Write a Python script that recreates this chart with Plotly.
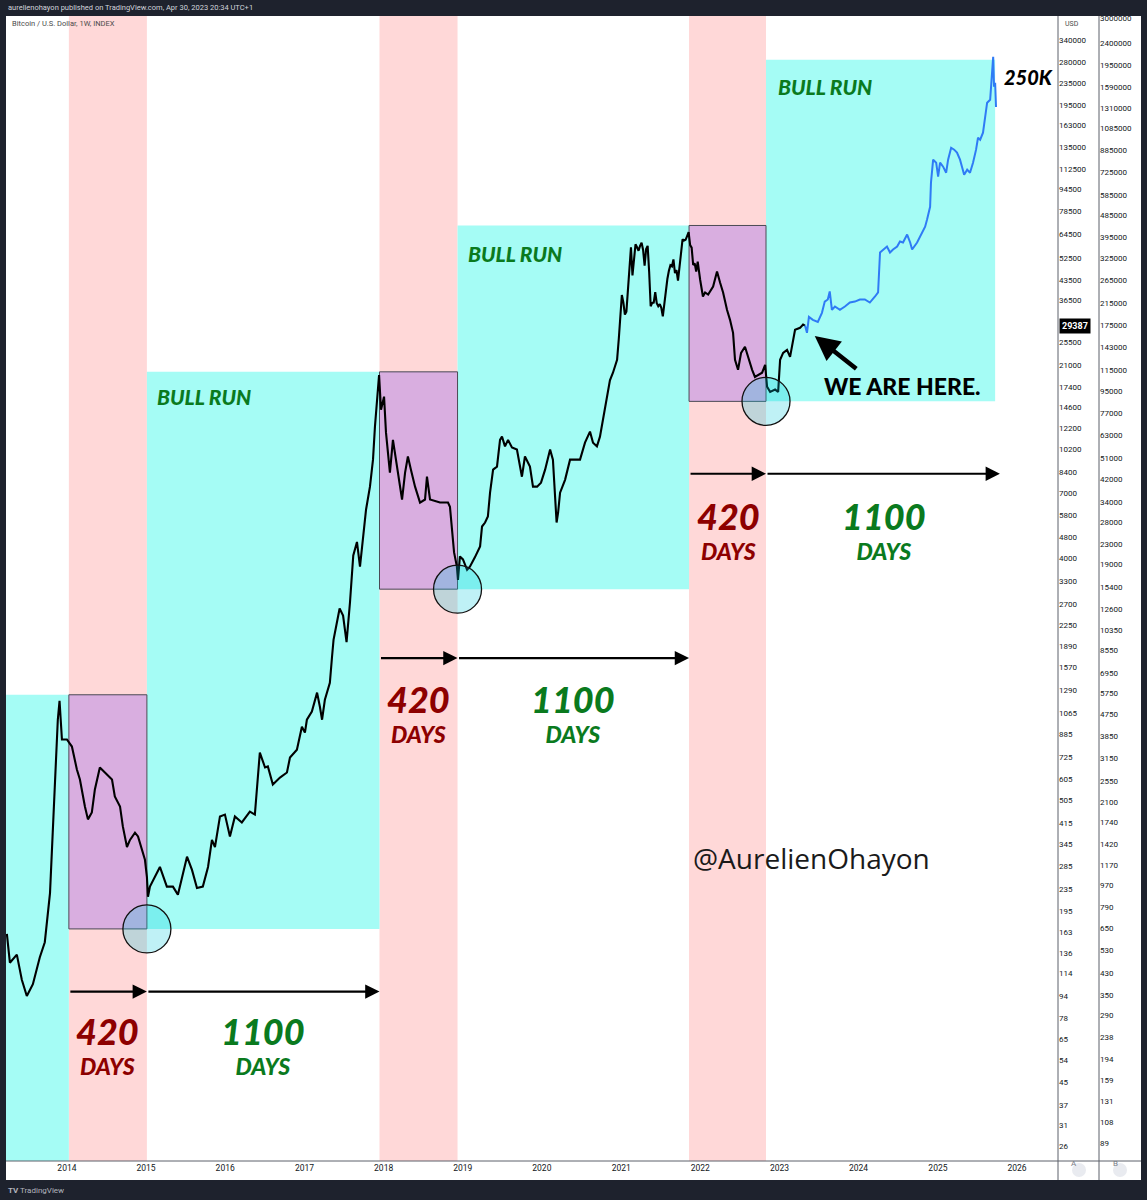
import numpy as np
import plotly.graph_objects as go

# ---------------- data ----------------
hist_dates = [
    "2013-03-30", "2013-04-13", "2013-05-15", "2013-06-07", "2013-06-30", "2013-07-28", "2013-08-29",
    "2013-09-21", "2013-10-15", "2013-10-28", "2013-11-07", "2013-11-20", "2013-11-28", "2013-12-09",
    "2014-01-01", "2014-01-24", "2014-02-16", "2014-03-02", "2014-03-25", "2014-04-08", "2014-04-26",
    "2014-05-10", "2014-06-02", "2014-07-05", "2014-07-28", "2014-08-10", "2014-09-03", "2014-09-16",
    "2014-10-05", "2014-10-19", "2014-11-11", "2014-11-25", "2014-12-13", "2014-12-27", "2015-01-05",
    "2015-01-10", "2015-01-19", "2015-03-06", "2015-04-07", "2015-05-05", "2015-05-28", "2015-07-09",
    "2015-08-01", "2015-08-24", "2015-09-20", "2015-10-14", "2015-11-01", "2015-11-15", "2015-12-08",
    "2015-12-31", "2016-01-23", "2016-02-15", "2016-03-18", "2016-04-24", "2016-05-17", "2016-05-27",
    "2016-06-09", "2016-07-03", "2016-07-16", "2016-08-08", "2016-09-10", "2016-10-12", "2016-10-26",
    "2016-11-27", "2016-12-20", "2017-01-03", "2017-01-12", "2017-02-04", "2017-02-28", "2017-03-13",
    "2017-03-23", "2017-04-05", "2017-04-28", "2017-05-08", "2017-05-15", "2017-06-12", "2017-06-28",
    "2017-07-14", "2017-07-30", "2017-08-14", "2017-08-31", "2017-09-14", "2017-09-28", "2017-10-12",
    "2017-10-30", "2017-11-13", "2017-11-22", "2017-12-01", "2017-12-11", "2017-12-20", "2018-01-03",
    "2018-01-12", "2018-01-30", "2018-02-13", "2018-02-22", "2018-03-08", "2018-03-27", "2018-04-10",
    "2018-04-23", "2018-05-07", "2018-05-26", "2018-06-18", "2018-07-11", "2018-07-20", "2018-08-03",
    "2018-09-18", "2018-10-25", "2018-11-03", "2018-11-12", "2018-11-22", "2018-12-05", "2018-12-10",
    "2018-12-19", "2019-01-02", "2019-01-21", "2019-02-03", "2019-02-26", "2019-03-22", "2019-03-31",
    "2019-04-14", "2019-04-27", "2019-05-07", "2019-05-21", "2019-06-08", "2019-06-22", "2019-07-01",
    "2019-07-15", "2019-07-29", "2019-08-16", "2019-09-08", "2019-10-01", "2019-10-15", "2019-11-07",
    "2019-11-21", "2019-12-10", "2019-12-28", "2020-01-16", "2020-02-08", "2020-02-21", "2020-03-09",
    "2020-03-16", "2020-03-25", "2020-04-17", "2020-05-10", "2020-06-02", "2020-06-25", "2020-07-18",
    "2020-08-10", "2020-08-24", "2020-09-11", "2020-09-25", "2020-10-09", "2020-10-23", "2020-11-10",
    "2020-11-24", "2020-12-13", "2020-12-21", "2020-12-28", "2021-01-04", "2021-01-11", "2021-01-18",
    "2021-01-25", "2021-02-01", "2021-02-08", "2021-02-15", "2021-02-22", "2021-03-01", "2021-03-08",
    "2021-03-15", "2021-03-22", "2021-03-29", "2021-04-05", "2021-04-12", "2021-04-19", "2021-04-26",
    "2021-05-03", "2021-05-10", "2021-05-17", "2021-05-24", "2021-05-31", "2021-06-07", "2021-06-14",
    "2021-06-21", "2021-06-28", "2021-07-05", "2021-07-12", "2021-07-19", "2021-07-26", "2021-08-02",
    "2021-08-09", "2021-08-16", "2021-08-23", "2021-08-30", "2021-09-06", "2021-09-13", "2021-09-20",
    "2021-09-27", "2021-10-04", "2021-10-11", "2021-10-18", "2021-10-25", "2021-11-01", "2021-11-08",
    "2021-11-15", "2021-11-22", "2021-11-29", "2021-12-06", "2021-12-13", "2021-12-20", "2021-12-31",
    "2022-01-13", "2022-01-23", "2022-02-06", "2022-03-01", "2022-03-19", "2022-04-02", "2022-04-16",
    "2022-05-04", "2022-05-18", "2022-06-01", "2022-06-10", "2022-06-24", "2022-07-08", "2022-07-26",
    "2022-08-09", "2022-08-28", "2022-09-10", "2022-09-24", "2022-10-13", "2022-10-27", "2022-11-05",
    "2022-11-19", "2022-12-12", "2022-12-26", "2023-01-04", "2023-01-18", "2023-02-05", "2023-02-19",
    "2023-02-28", "2023-03-14", "2023-04-06", "2023-04-20", "2023-04-29",
]
hist_close = [
    160, 125, 134, 108, 94, 104, 131,
    149, 227, 392, 537, 1003, 1180, 847,
    847, 797, 655, 601, 477, 427, 453,
    552, 666, 627, 601, 520, 477, 402,
    337, 358, 381, 369, 329, 302, 261,
    220, 240, 284, 240, 240, 224, 310,
    277, 237, 240, 284, 358, 337, 438,
    445, 369, 438, 416, 456, 445, 552,
    757, 666, 672, 576, 611, 638, 725,
    776, 945, 898, 1003, 1075, 1265, 1121,
    1003, 1190, 1377, 1720, 1989, 2600, 2450,
    1950, 2750, 4100, 4600, 3723, 4702, 6076,
    7392, 9316, 12356, 15569, 19244, 14280, 15983,
    11740, 8337, 11036, 9897, 8337, 6620, 8337,
    9568, 8551, 7392, 6450, 6620, 8048, 6620,
    6450, 6450, 6222, 5253, 4206, 3723, 3325,
    4066, 3961, 3624, 3723, 4032, 4427, 5253,
    5433, 5729, 7021, 8551, 8775, 11036, 11346,
    10435, 11036, 10346, 10152, 8048, 9568, 8775,
    7392, 7392, 7647, 8551, 10152, 9316, 5433,
    5923, 7021, 7837, 9316, 9316, 9316, 10775,
    11846, 10775, 10435, 11346, 13114, 15569, 18384,
    19621, 21910, 26300, 33000, 38200, 35800, 32300,
    33100, 38900, 48600, 57500, 45200, 51200, 59000,
    57500, 55800, 58200, 59800, 56200, 49100, 56600,
    58200, 46400, 34700, 35700, 35800, 39100, 35600,
    34700, 35300, 34200, 31800, 35400, 39900, 43800,
    47000, 49300, 48800, 51800, 46100, 47300, 43200,
    48200, 55000, 61500, 60900, 61300, 63300, 65500,
    58600, 57300, 49400, 50100, 46700, 50800, 43620,
    37710, 39030, 38350, 41070, 46720, 42500, 39030,
    33630, 30870, 27610, 21910, 20120, 23270, 24500,
    22480, 20120, 18920, 19240, 19621, 20980, 17400,
    16650, 16980, 16650, 21910, 23270, 23870, 22480,
    24500, 28340, 28820, 29650, 29387,
]

proj_dates = [
    "2023-04-29", "2023-05-08", "2023-05-17", "2023-06-04", "2023-06-27", "2023-07-16", "2023-07-29",
    "2023-08-12", "2023-08-21", "2023-08-31", "2023-09-14", "2023-10-07", "2023-10-30", "2023-11-22",
    "2023-12-15", "2024-01-07", "2024-01-30", "2024-02-22", "2024-03-17", "2024-03-31", "2024-04-09",
    "2024-04-23", "2024-05-11", "2024-05-25", "2024-06-08", "2024-06-27", "2024-07-10", "2024-07-24",
    "2024-08-12", "2024-08-26", "2024-09-04", "2024-09-27", "2024-10-20", "2024-11-03", "2024-11-12",
    "2024-11-26", "2024-11-30", "2024-12-10", "2024-12-24", "2025-01-02", "2025-01-11", "2025-01-25",
    "2025-02-08", "2025-02-17", "2025-03-03", "2025-03-17", "2025-03-30", "2025-04-13", "2025-04-22",
    "2025-05-02", "2025-05-16", "2025-05-29", "2025-06-12", "2025-06-26", "2025-07-05", "2025-07-15",
    "2025-07-28", "2025-08-07", "2025-08-16", "2025-08-30", "2025-09-08", "2025-09-13", "2025-09-17",
    "2025-09-22", "2025-09-26",
]
proj_close = [
    29387, 27610, 31650, 30870, 30330, 32770, 36100,
    36750, 39370, 33630, 34610, 33630, 34610, 35800,
    36100, 36750, 36750, 35800, 37710, 39030, 54980,
    56410, 57870, 54980, 56410, 57870, 60380, 59900,
    64120, 59900, 56410, 59900, 65200, 68600, 72900,
    81360, 100000, 121800, 118700, 105300, 118700, 114700,
    108900, 121800, 134900, 132700, 129400, 121800, 114700,
    107100, 111800, 108900, 118700, 132700, 147000, 144500,
    153400, 175800, 198400, 203500, 263000, 293900, 227400,
    235300, 191400,
]
last_price = 29387

# cycle zones
cycle_top_dates = ["2014-01-10", "2017-12-13", "2021-11-10"]
cycle_bottom_dates = ["2015-01-05", "2018-12-08", "2022-10-31"]
cycle_high = [1242, 19770, 69300]
cycle_low = [167, 3070, 15350]
first_bull_start = "2012-12-01"
first_bull_floor = 1
bull_end_date = "2025-09-22"
bull_end_high = 286500
arrow_levels = [97.6, 1701, 8255]
last_arrow_end = "2025-10-14"

# labels
bull_label_dates = ["2015-02-11", "2019-01-16", "2022-12-16"]
bull_label_levels = [15980, 54500, 227400]
bear_label_dates = ["2014-07-09", "2018-06-13", "2022-05-13"]
bull_days_label_dates = ["2016-06-23", "2020-05-24", "2024-04-28"]
count_label_levels = [62.2, 1067, 5116]
bear_days_text = "420"
bull_days_text = "1100"

here_label = ("2024-07-20", 17560)
here_arrow_head = ("2023-06-13", 26900)
target_label = ("2026-02-21", 247700)
handle_label = ("2023-05-31", 307)

year_ticks = ["2014-01-01", "2015-01-01", "2016-01-01", "2017-01-01", "2018-01-01", "2019-01-01",
              "2020-01-01", "2021-01-01", "2022-01-01", "2023-01-01", "2024-01-01", "2025-01-01",
              "2026-01-01"]
year_labels = ["2014", "2015", "2016", "2017", "2018", "2019", "2020", "2021", "2022", "2023",
               "2024", "2025", "2026"]

scale_a_ticks = [340000, 280000, 235000, 195000, 163000, 135000, 112500, 94500, 78500, 64500,
                 52500, 43500, 36500, 25500, 21000, 17400, 14600, 12200, 10200, 8400, 7000,
                 5800, 4800, 4000, 3300, 2700, 2250, 1890, 1570, 1290, 1065, 885, 725, 605, 505,
                 415, 345, 285, 235, 195, 163, 136, 114, 94, 78, 65, 54, 45, 37, 31, 26]
scale_b_ticks = [3000000, 2400000, 1950000, 1590000, 1310000, 1085000, 885000, 725000, 585000,
                 485000, 395000, 325000, 265000, 215000, 175000, 143000, 115000, 95000, 77000,
                 63000, 51000, 42000, 34000, 28000, 23000, 19000, 15400, 12600, 10350, 8550, 6950,
                 5750, 4750, 3850, 3150, 2550, 2100, 1740, 1420, 1170, 970, 790, 650, 530, 430,
                 350, 290, 238, 194, 159, 131, 108, 89]

# ---------------- styling ----------------
W, H = 1147, 1200
ML, MR, MT, MB = 6, 6, 16, 39
PW = W - ML - MR          # 1135
PH = H - MT - MB          # 1145
X_DOMAIN_END = (1058 - ML) / PW
B_AXIS_POS = (1099 - ML) / PW
STRIP_BOTTOM = -(1180 - (H - MB)) / PH
A_RANGE = [1.359, 5.6203]
PX_PER_DECADE = PH / (A_RANGE[1] - A_RANGE[0])
CIRCLE_R = 24  # px

DARK = "#1e222d"
PINK = "#ffd8d8"
CYAN = "#a5fcf5"
PURPLE = "#d9aee0"
GREEN = "#0a7a1e"
RED = "#8d0000"
AXIS_LINE = "#5d606b"
TICK_FONT = dict(family="Roboto, Liberation Sans, sans-serif", size=8, color="#131722")
HEAVY = "Lato, Inter, sans-serif"

fig = go.Figure()
fig.add_trace(go.Scatter(x=hist_dates, y=hist_close, mode="lines",
                         line=dict(color="#000000", width=2.1), hoverinfo="skip"))
fig.add_trace(go.Scatter(x=proj_dates, y=proj_close, mode="lines",
                         line=dict(color="#2f7bf5", width=2), hoverinfo="skip"))
fig.add_trace(go.Scatter(x=[], y=[], yaxis="y2", mode="lines", hoverinfo="skip"))

shapes = []
# white axis strips
shapes.append(dict(type="rect", xref="paper", yref="paper", x0=X_DOMAIN_END, x1=1, y0=STRIP_BOTTOM,
                   y1=1, fillcolor="white", line=dict(width=0), layer="below"))
shapes.append(dict(type="rect", xref="paper", yref="paper", x0=0, x1=1, y0=STRIP_BOTTOM,
                   y1=0, fillcolor="white", line=dict(width=0), layer="below"))
# bear bands
for i in range(3):
    shapes.append(dict(type="rect", xref="x", yref="y domain", x0=cycle_top_dates[i],
                       x1=cycle_bottom_dates[i], y0=0, y1=1, fillcolor=PINK,
                       line=dict(width=0), layer="below"))
# bull zones
for i in range(4):
    x0 = first_bull_start if i == 0 else cycle_bottom_dates[i - 1]
    x1 = cycle_top_dates[i] if i < 3 else bull_end_date
    y0 = first_bull_floor if i == 0 else cycle_low[i - 1]
    y1 = cycle_high[i] if i < 3 else bull_end_high
    shapes.append(dict(type="rect", xref="x", yref="y", x0=x0, x1=x1, y0=y0, y1=y1,
                       fillcolor=CYAN, line=dict(width=0), layer="below"))
# drawdown boxes
for i in range(3):
    shapes.append(dict(type="rect", xref="x", yref="y", x0=cycle_top_dates[i],
                       x1=cycle_bottom_dates[i], y0=cycle_low[i], y1=cycle_high[i],
                       fillcolor=PURPLE, line=dict(color="#4a4a55", width=1), layer="below"))
# bottom circles (pixel width, log-scaled height of the same pixel size)
rdec = CIRCLE_R / PX_PER_DECADE
for i in range(3):
    shapes.append(dict(type="circle", xref="x", yref="y", xsizemode="pixel",
                       xanchor=cycle_bottom_dates[i], x0=-CIRCLE_R, x1=CIRCLE_R,
                       y0=cycle_low[i] * 10 ** (-rdec), y1=cycle_low[i] * 10 ** rdec,
                       fillcolor="rgba(0,200,220,0.25)", line=dict(color="#111111", width=1.3),
                       layer="above"))
# frame lines
shapes.append(dict(type="line", xref="paper", yref="paper", x0=0, x1=1, y0=0, y1=0,
                   line=dict(color=AXIS_LINE, width=1)))
for xp in (X_DOMAIN_END, B_AXIS_POS):
    shapes.append(dict(type="line", xref="paper", yref="paper", x0=xp, x1=xp, y0=STRIP_BOTTOM,
                       y1=1, line=dict(color=AXIS_LINE, width=1)))
# A / B buttons
for xpx in (1079, 1120):
    shapes.append(dict(type="circle", xref="paper", yref="paper", xsizemode="pixel",
                       ysizemode="pixel", xanchor=(xpx - ML) / PW, yanchor=-(9 / PH),
                       x0=-7, x1=7, y0=-7, y1=7, fillcolor="#e9ebf0", line=dict(width=0)))

ann = []
lg = np.log10
# horizontal arrows
for i in range(3):
    nxt = cycle_top_dates[i + 1] if i < 2 else last_arrow_end
    for a, b in ((cycle_top_dates[i], cycle_bottom_dates[i]), (cycle_bottom_dates[i], nxt)):
        ann.append(dict(x=b, y=lg(arrow_levels[i]), xref="x", yref="y", ax=a, ay=lg(arrow_levels[i]),
                        axref="x", ayref="y", text="", showarrow=True, arrowhead=2, arrowsize=1.3,
                        arrowwidth=2.2, arrowcolor="#000000", standoff=0))
# BULL RUN labels
for d, v in zip(bull_label_dates, bull_label_levels):
    ann.append(dict(x=d, y=lg(v), xref="x", yref="y", text="BULL RUN", showarrow=False,
                    xanchor="left", font=dict(family=HEAVY, size=21, color=GREEN, weight=900,
                                              style="italic")))
# day count labels (number over "DAYS")
for i in range(3):
    for d, txt, col in ((bear_label_dates[i], bear_days_text, RED),
                        (bull_days_label_dates[i], bull_days_text, GREEN)):
        ann.append(dict(x=d, y=lg(count_label_levels[i]), xref="x", yref="y",
                        text=f"<span style='font-size:36px'>{txt}</span><br>DAYS",
                        showarrow=False, align="center",
                        font=dict(family=HEAVY, size=23, color=col, weight=900, style="italic")))
# WE ARE HERE
ann.append(dict(x=here_label[0], y=lg(here_label[1]), xref="x", yref="y", text="WE ARE HERE.",
                showarrow=False, font=dict(family=HEAVY, size=23, color="#000000", weight=900)))
ann.append(dict(x=here_arrow_head[0], y=lg(here_arrow_head[1]), xref="x", yref="y", text="",
                showarrow=True, ax=43, ay=34, arrowhead=2, arrowsize=1.1, arrowwidth=4.5,
                arrowcolor="#000000", standoff=0))
ann.append(dict(x=target_label[0], y=lg(target_label[1]), xref="x", yref="y", text="250K",
                showarrow=False, font=dict(family=HEAVY, size=20, color="#000000", weight=900,
                                           style="italic")))
ann.append(dict(x=handle_label[0], y=lg(handle_label[1]), xref="x", yref="y",
                text="@AurelienOhayon", showarrow=False,
                font=dict(family="Open Sans, Liberation Sans, sans-serif", size=28,
                          color="#1a1a1a")))
# last price tag
ann.append(dict(x=(1059 - ML) / PW, y=lg(last_price), xref="paper", yref="y", xanchor="left",
                text=f"<b>{last_price}</b>", showarrow=False, bgcolor="#000000", borderpad=2,
                font=dict(family="Roboto, sans-serif", size=9, color="#ffffff")))
# header / footer / misc texts
ann.append(dict(x=0, y=1 + 8 / PH, xref="paper", yref="paper", xanchor="left", yanchor="middle",
                text="aurelienohayon published on TradingView.com, Apr 30, 2023 20:34 UTC+1",
                showarrow=False, font=dict(family="Roboto, sans-serif", size=7.5, color="#d1d4dc")))
ann.append(dict(x=4 / PW, y=1 - 8 / PH, xref="paper", yref="paper", xanchor="left",
                yanchor="middle", text="Bitcoin / U.S. Dollar, 1W, INDEX", showarrow=False,
                font=dict(family="Roboto, sans-serif", size=7.5, color="#4a4a4a")))
ann.append(dict(x=(1063 - ML) / PW, y=1 - 8 / PH, xref="paper", yref="paper", xanchor="left",
                yanchor="middle", text="USD", showarrow=False,
                font=dict(family="Roboto, sans-serif", size=7, color="#4a4a4a")))
ann.append(dict(x=0, y=-(29 / PH), xref="paper", yref="paper", xanchor="left", yanchor="middle",
                text="<b>TV</b> TradingView", showarrow=False,
                font=dict(family="Roboto, sans-serif", size=8, color="#b2b5be")))
for xpx, t in ((1079, "A"), (1120, "B")):
    ann.append(dict(x=(xpx - ML) / PW, y=-(9 / PH), xref="paper", yref="paper", text=t,
                    showarrow=False, font=dict(family="Roboto, sans-serif", size=8,
                                               color="#787b86")))

fig.update_layout(
    width=W, height=H,
    margin=dict(l=ML, r=MR, t=MT, b=MB, pad=0),
    paper_bgcolor=DARK, plot_bgcolor="#ffffff",
    showlegend=False, hovermode=False,
    shapes=shapes, annotations=ann,
    xaxis=dict(type="date", domain=[0, X_DOMAIN_END], range=["2013-03-26", "2026-07-09"],
               tickvals=year_ticks, ticktext=year_labels, showgrid=False, zeroline=False,
               ticks="", showline=False,
               tickfont=dict(family="Roboto, sans-serif", size=8.5, color="#131722")),
    yaxis=dict(type="log", side="right", anchor="x", range=A_RANGE,
               tickvals=scale_a_ticks, ticktext=[str(v) for v in scale_a_ticks],
               showgrid=False, zeroline=False, ticks="", showline=False, tickfont=TICK_FONT),
    yaxis2=dict(type="log", side="right", overlaying="y", anchor="free", position=B_AXIS_POS,
                range=[1.876, 6.4877], tickvals=scale_b_ticks,
                ticktext=[str(v) for v in scale_b_ticks], showgrid=False, zeroline=False,
                ticks="", showline=False, tickfont=TICK_FONT),
)

fig.write_html("out.html", config={"displayModeBar": False},
               post_script="document.body.style.margin='0';document.body.style.overflow='hidden';")
